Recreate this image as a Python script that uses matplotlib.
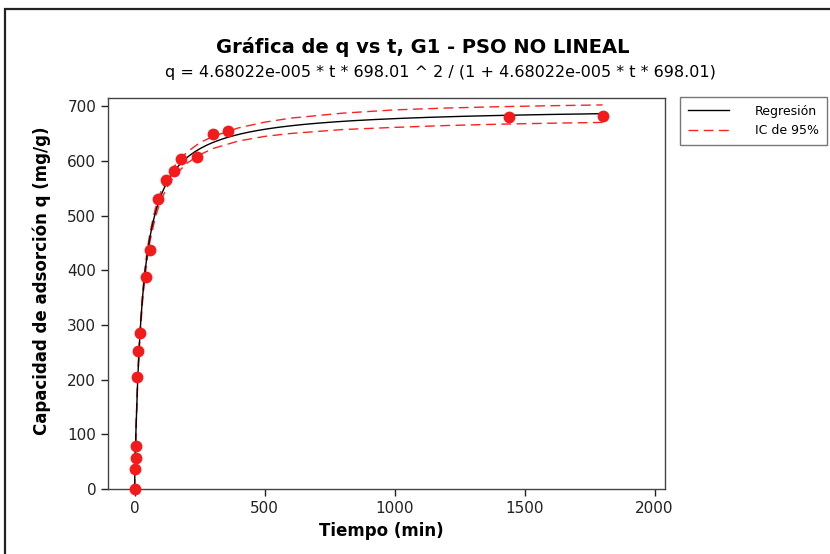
import numpy as np
import matplotlib
matplotlib.use("Agg")
import matplotlib.pyplot as plt
from matplotlib.patches import Rectangle
from matplotlib.lines import Line2D

# Fitted PSO parameters (from the equation shown on the chart)
k2 = 4.68022e-05
qe = 698.01

# Observed data
t_obs = [0, 1, 5, 6, 10, 15, 20, 45, 60, 90, 120, 150, 180, 240, 300, 360, 1440, 1800]
q_obs = [0, 36, 56, 79, 205, 252, 285, 388, 437, 530, 565, 581, 603, 607, 650, 655, 680, 682]

# 95% confidence band: half width at these times
ci_t = [0, 5, 10, 15, 20, 30, 40, 50, 60, 80, 100, 125, 150, 200, 250, 300,
        400, 500, 600, 800, 1000, 1200, 1400, 1600, 1800]
ci_half = [0, 3, 5, 6, 7, 8, 8, 8, 8, 8, 8, 9, 9, 10, 11, 11,
           12, 13, 14, 15, 16, 16, 16, 16, 16]

x_ticks = [0, 500, 1000, 1500, 2000]
y_ticks = [0, 100, 200, 300, 400, 500, 600, 700]


def pso(t):
    t = np.asarray(t, dtype=float)
    return k2 * t * qe ** 2 / (1 + k2 * t * qe)


t_fit = np.linspace(0, 1800, 600)
q_fit = pso(t_fit)
ci_low = pso(ci_t) - np.array(ci_half)
ci_up = pso(ci_t) + np.array(ci_half)

W, H = 830, 554
fig = plt.figure(figsize=(W / 100, H / 100), dpi=100)
fig.patch.set_facecolor("white")

# outer frame (cut off at right / bottom like the screenshot)
fig.add_artist(Rectangle((5 / W, -0.1), 1.2, 1 - 9 / H + 0.1, transform=fig.transFigure,
                         fill=False, edgecolor="#222222", linewidth=1.6))

ax = fig.add_axes([108 / W, 1 - 489 / H, (665 - 108) / W, (489 - 98) / H])

ax.plot(t_fit, q_fit, color="black", linewidth=1.0, zorder=3)
ax.plot(ci_t, ci_up, color="#ff2020", linewidth=1.0, dashes=(7, 4), zorder=2)
ax.plot(ci_t, ci_low, color="#ff2020", linewidth=1.0, dashes=(7, 4), zorder=2)
ax.plot(t_obs, q_obs, "o", color="#f21a1a", markersize=8.5, markeredgewidth=0,
        zorder=4, clip_on=False)

ax.set_xlim(-102, 2040)
ax.set_ylim(0, 715)
ax.set_xticks(x_ticks)
ax.set_yticks(y_ticks)
ax.tick_params(direction="out", length=5, width=1, labelsize=11, colors="#222222",
               top=False, right=False)
for s in ax.spines.values():
    s.set_color("#444444")
    s.set_linewidth(1.0)

fig.text(0.509, 1 - 47 / H, "Gráfica de q vs t, G1 - PSO NO LINEAL",
         ha="center", va="center", fontsize=14, fontweight="bold")
fig.text(0.531, 1 - 72 / H,
         "q = 4.68022e-005 * t * 698.01 ^ 2 / (1 + 4.68022e-005 * t * 698.01)",
         ha="center", va="center", fontsize=11.5)
fig.text(42 / W, 1 - 281 / H, "Capacidad de adsorción q (mg/g)", rotation=90,
         ha="center", va="center", fontsize=12, fontweight="bold")
fig.text(381 / W, 1 - 531 / H, "Tiempo (min)", ha="center", va="center",
         fontsize=12, fontweight="bold")

handles = [Line2D([0], [0], color="black", linewidth=1.0),
           Line2D([0], [0], color="#ff2020", linewidth=1.0, dashes=(7, 4))]
leg = fig.legend(handles, ["Regresión", "IC de 95%"], loc="upper left",
                 bbox_to_anchor=(680 / W, 1 - 97 / H), fontsize=9,
                 handlelength=3.3, frameon=True, fancybox=False,
                 borderpad=0.6, labelspacing=0.55, handletextpad=2.1,
                 borderaxespad=0)
leg.get_frame().set_edgecolor("#555555")
leg.get_frame().set_linewidth(1.0)

fig.savefig("out.png", dpi=100)
